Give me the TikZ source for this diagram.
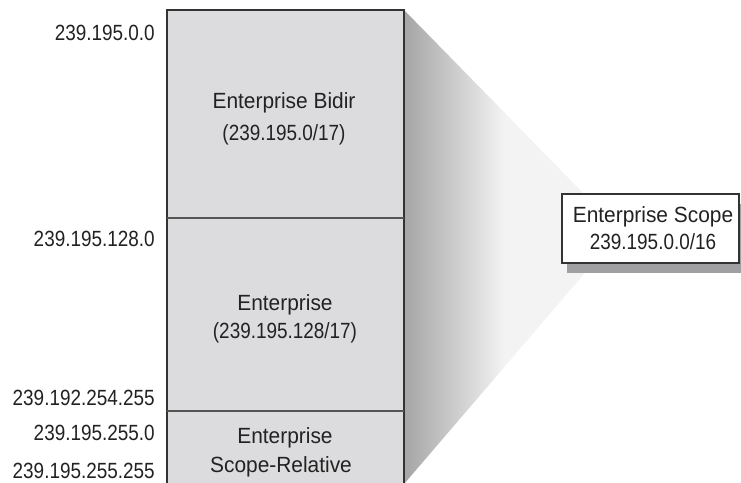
\documentclass[tikz,border=0pt]{standalone}
\usepackage{fontspec}
\setmainfont{Liberation Sans}[FakeStretch=0.95]
\newfontfamily\numfont{Liberation Sans}[FakeStretch=0.86]
\definecolor{blockgray}{HTML}{DCDCDE}
\definecolor{inkgray}{HTML}{222222}
\definecolor{edgegray}{HTML}{333333}
\definecolor{rulegray}{HTML}{555555}
\definecolor{fanlight}{HTML}{F3F3F3}
\definecolor{fandark}{HTML}{A6A6A6}
\definecolor{shadowgray}{HTML}{A0A0A2}
\begin{document}
\begin{tikzpicture}[x=0.75pt,y=-0.75pt,
  txt/.style={font=\fontsize{16.5pt}{20pt}\selectfont, text=inkgray, inner sep=0pt},
  numtxt/.style={font=\fontsize{16.5pt}{20pt}\selectfont\numfont, text=inkgray, inner sep=0pt},
  addr/.style={numtxt, anchor=base east},
  ctr/.style={txt, anchor=base},
  numctr/.style={numtxt, anchor=base},
  divider/.style={draw=rulegray, line width=1.4pt}]
\useasboundingbox (0,0) rectangle (741,482);
\clip (0,0) rectangle (741,482);
% fan from the column to the scope box
\coordinate (fA) at (404,10);
\coordinate (fB) at (584,194);
\coordinate (fC) at (584,274);
\coordinate (fD) at (404,484);
\fill[fanlight] (fA) -- (fB) -- (fC) -- (fD) -- cycle;
\begin{scope}
  \clip (fA) -- (fB) -- (fC) -- (fD) -- cycle;
  \shade[left color=fandark, right color=fanlight] (405,0) rectangle (505,490);
\end{scope}
% address column
\draw[fill=blockgray, draw=edgegray, line width=1.1pt] (167,10) rectangle (404,500);
\draw[divider] (167,218) -- (404,218);
\draw[divider] (167,411) -- (404,411);
% block texts
\node[ctr] (bidir1) at (284,108) {Enterprise Bidir};
\node[numctr] (bidir2) at (284,140) {(239.195.0/17)};
\node[ctr] (ent1) at (285,310) {Enterprise};
\node[numctr] (ent2) at (285,338) {(239.195.128/17)};
\node[ctr] (rel1) at (285,443) {Enterprise};
\node[ctr] (rel2) at (281,472) {Scope-Relative};
% addresses
\node[addr] (a1) at (155,40) {239.195.0.0};
\node[addr] (a2) at (155,246) {239.195.128.0};
\node[addr] (a3) at (155,405) {239.192.254.255};
\node[addr] (a4) at (155,440) {239.195.255.0};
\node[addr] (a5) at (155,478) {239.195.255.255};
% scope box with shadow
\fill[shadowgray] (567,204) rectangle (750,273);
\draw[fill=white, draw=edgegray, line width=0.9pt] (562,194) rectangle (739,263);
\node[ctr] (sc1) at (653,222) {Enterprise Scope};
\node[numctr] (sc2) at (653,249) {239.195.0.0/16};
\end{tikzpicture}
\end{document}
